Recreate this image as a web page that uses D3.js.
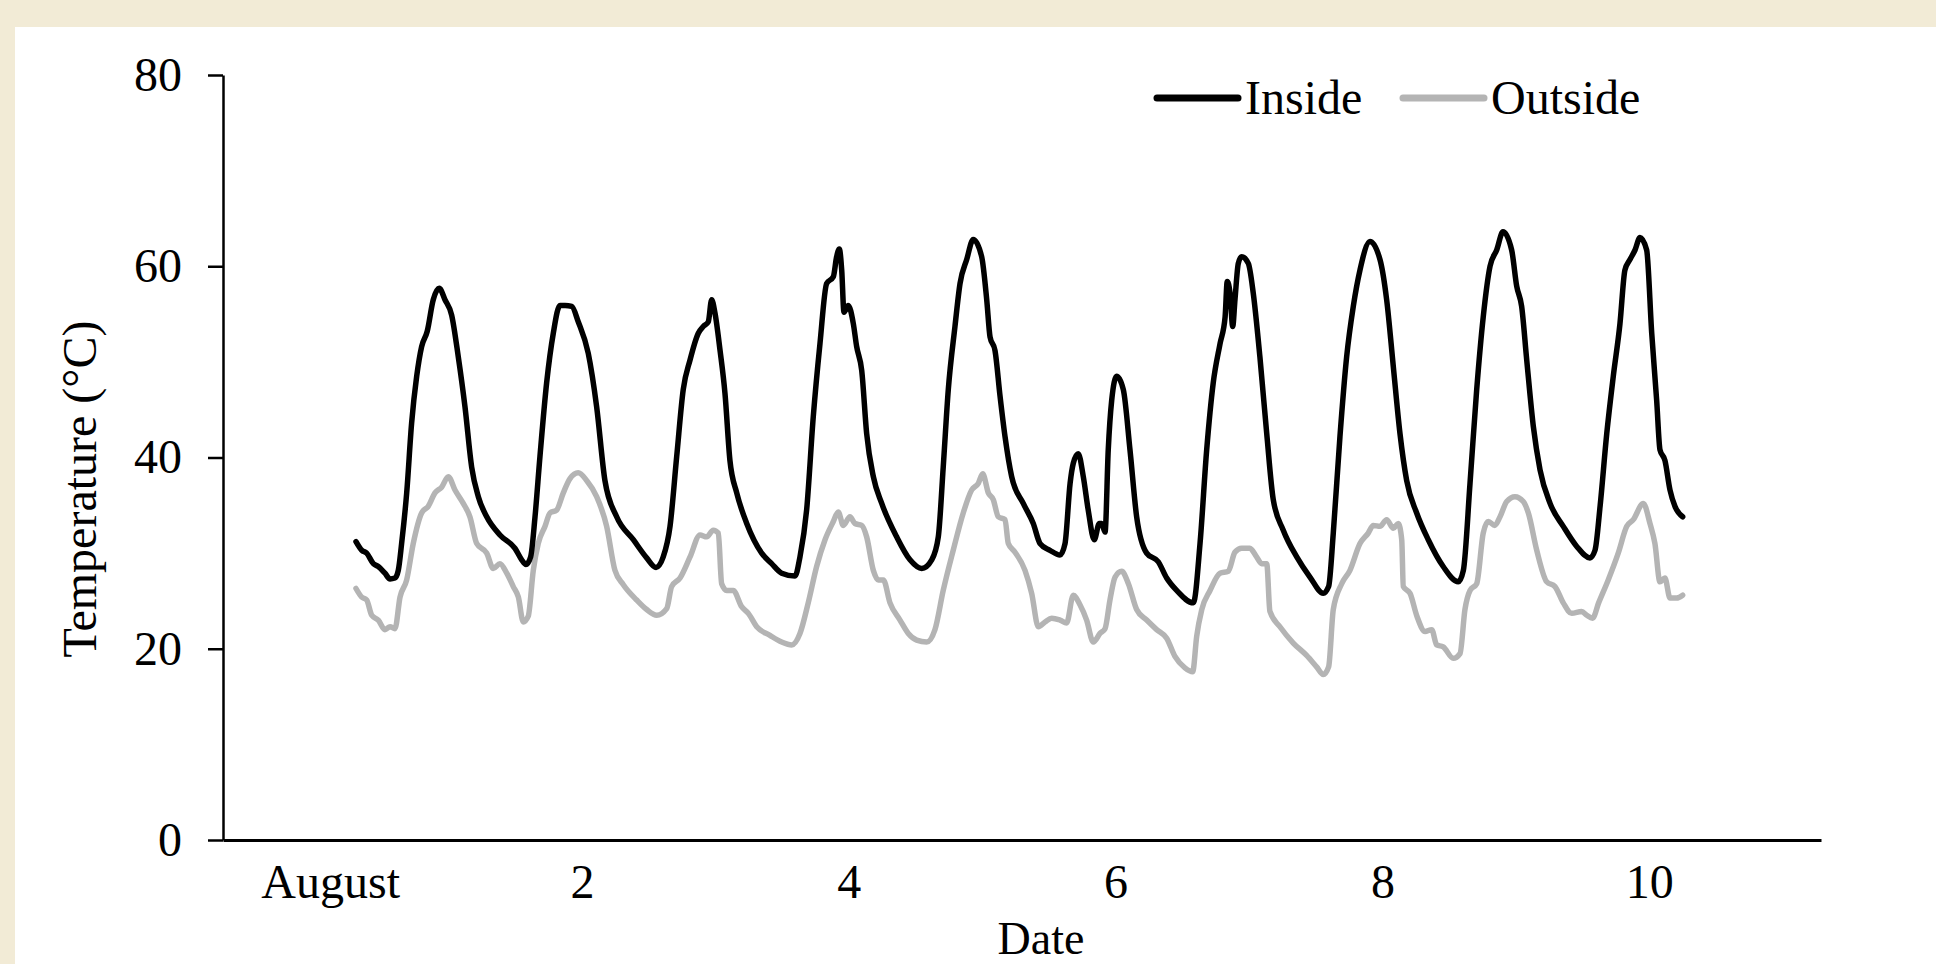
<!DOCTYPE html>
<html>
<head>
<meta charset="utf-8">
<script src="https://cdn.jsdelivr.net/npm/d3@7/dist/d3.min.js"></script>
<style>
  body { margin: 0; background: #f2ebd6; }
  svg { display: block; }
  text { font-family: "Liberation Serif", "Times New Roman", serif; fill: #000; }
</style>
</head>
<body>
<svg id="chart" width="1936" height="964"></svg>
<script>
// tick values / labels
const yTicks = [0, 20, 40, 60, 80];
const xTicks = [0, 2, 4, 6, 8, 10];
const xTickLabels = ["August", "2", "4", "6", "8", "10"];
const seriesNames = ["Inside", "Outside"];
const seriesColors = ["#000000", "#b4b4b4"];

// [day, temperature °C]
const inside = [
  [0.306, 31.2], [0.349, 30.3], [0.386, 30.0], [0.436, 28.9], [0.473, 28.6], [0.523, 27.9],
  [0.561, 27.3], [0.598, 27.4], [0.623, 28.2], [0.648, 31.0], [0.686, 36.3], [0.723, 43.6],
  [0.761, 48.5], [0.798, 51.6], [0.840, 53.2], [0.885, 56.5], [0.930, 57.7], [0.973, 56.5],
  [1.023, 54.9], [1.073, 50.5], [1.123, 45.3], [1.173, 39.0], [1.223, 35.9], [1.286, 33.8],
  [1.385, 31.9], [1.498, 30.5], [1.548, 29.3], [1.580, 28.8], [1.615, 29.6], [1.648, 33.8],
  [1.685, 40.1], [1.735, 47.8], [1.785, 53.0], [1.835, 55.9], [1.873, 55.9], [1.923, 55.8],
  [1.972, 54.2], [2.047, 50.9], [2.110, 45.3], [2.172, 37.6], [2.260, 33.8], [2.385, 31.4],
  [2.485, 29.5], [2.555, 28.5], [2.609, 29.6], [2.660, 32.8], [2.710, 40.1], [2.759, 47.1],
  [2.810, 50.2], [2.872, 53.0], [2.909, 53.7], [2.947, 54.2], [2.972, 56.5], [2.997, 55.1],
  [3.035, 51.2], [3.072, 46.7], [3.109, 39.7], [3.160, 36.3], [3.235, 33.1], [3.347, 30.0],
  [3.422, 28.9], [3.497, 27.9], [3.597, 27.6], [3.634, 29.6], [3.684, 34.5], [3.734, 44.3],
  [3.784, 51.9], [3.834, 58.2], [3.884, 58.9], [3.909, 61.0], [3.929, 61.8], [3.947, 59.6],
  [3.964, 55.2], [3.996, 55.9], [4.034, 54.0], [4.059, 51.6], [4.097, 49.1], [4.134, 42.5],
  [4.184, 38.0], [4.247, 35.2], [4.359, 31.7], [4.459, 29.3], [4.547, 28.4], [4.622, 29.3],
  [4.671, 31.7], [4.708, 39.0], [4.746, 47.1], [4.796, 53.7], [4.834, 58.2], [4.884, 60.7],
  [4.933, 62.8], [4.996, 61.0], [5.034, 56.5], [5.059, 52.6], [5.096, 51.2], [5.134, 46.4],
  [5.171, 42.2], [5.221, 38.0], [5.308, 35.2], [5.383, 33.1], [5.434, 31.0], [5.508, 30.3],
  [5.583, 29.8], [5.621, 31.0], [5.659, 37.3], [5.683, 39.4], [5.720, 40.4], [5.758, 38.0],
  [5.795, 34.5], [5.840, 31.4], [5.878, 33.1], [5.896, 33.1], [5.921, 32.2], [5.945, 40.8],
  [5.971, 46.0], [6.008, 48.5], [6.058, 47.1], [6.108, 40.8], [6.158, 33.8], [6.233, 30.0],
  [6.320, 29.1], [6.383, 27.4], [6.458, 26.1], [6.583, 24.8], [6.633, 31.0], [6.683, 40.8],
  [6.732, 47.8], [6.783, 51.9], [6.821, 54.7], [6.837, 58.4], [6.858, 57.2], [6.878, 53.7],
  [6.895, 56.5], [6.920, 60.3], [6.945, 61.0], [6.995, 60.3], [7.032, 57.2], [7.082, 50.5],
  [7.133, 42.5], [7.182, 35.6], [7.257, 32.4], [7.358, 29.6], [7.457, 27.5], [7.557, 25.8],
  [7.597, 26.5], [7.632, 32.1], [7.682, 42.2], [7.732, 50.5], [7.782, 55.8], [7.832, 59.6],
  [7.907, 62.6], [7.982, 60.7], [8.032, 56.5], [8.082, 49.5], [8.132, 42.5], [8.182, 37.6],
  [8.257, 34.2], [8.344, 31.4], [8.456, 28.6], [8.569, 27.0], [8.607, 28.2], [8.657, 37.3],
  [8.707, 47.1], [8.756, 54.7], [8.807, 60.0], [8.857, 61.7], [8.904, 63.6], [8.969, 61.7],
  [9.007, 57.9], [9.044, 55.8], [9.082, 50.2], [9.132, 43.2], [9.182, 38.7], [9.257, 35.2],
  [9.356, 32.8], [9.457, 30.7], [9.556, 29.5], [9.594, 30.3], [9.632, 34.9], [9.682, 42.5],
  [9.731, 48.5], [9.781, 54.0], [9.818, 59.6], [9.856, 60.7], [9.894, 61.7], [9.931, 63.0],
  [9.981, 61.7], [10.019, 53.0], [10.056, 46.0], [10.081, 40.8], [10.118, 39.7], [10.156, 36.6],
  [10.193, 34.9], [10.251, 33.8]
];

const outside = [
  [0.306, 26.3], [0.349, 25.4], [0.386, 25.1], [0.424, 23.5], [0.473, 23.0], [0.523, 22.0],
  [0.561, 22.3], [0.598, 22.1], [0.636, 25.4], [0.686, 27.2], [0.735, 31.0], [0.798, 34.2],
  [0.848, 34.9], [0.898, 36.3], [0.948, 36.9], [0.998, 38.0], [1.048, 36.6], [1.110, 35.2],
  [1.160, 33.8], [1.211, 31.0], [1.286, 30.0], [1.335, 28.4], [1.385, 28.9], [1.436, 27.9],
  [1.485, 26.5], [1.523, 25.4], [1.560, 22.8], [1.597, 23.4], [1.635, 28.2], [1.672, 31.0],
  [1.723, 32.8], [1.760, 34.2], [1.810, 34.5], [1.860, 36.3], [1.910, 37.8], [1.972, 38.4],
  [2.035, 37.6], [2.110, 35.9], [2.185, 32.8], [2.247, 28.2], [2.310, 26.7], [2.410, 25.1],
  [2.485, 24.1], [2.560, 23.5], [2.635, 24.2], [2.672, 26.5], [2.735, 27.4], [2.810, 29.6],
  [2.885, 31.9], [2.935, 31.7], [2.984, 32.4], [3.022, 32.1], [3.047, 26.8], [3.085, 26.1],
  [3.134, 26.1], [3.197, 24.4], [3.247, 23.7], [3.310, 22.3], [3.409, 21.4], [3.497, 20.7],
  [3.572, 20.4], [3.634, 21.6], [3.696, 24.8], [3.759, 28.6], [3.822, 31.4], [3.884, 33.3],
  [3.921, 34.3], [3.959, 32.9], [4.009, 33.8], [4.046, 33.1], [4.097, 32.9], [4.134, 31.7],
  [4.184, 28.2], [4.221, 27.2], [4.259, 27.2], [4.309, 24.8], [4.384, 23.0], [4.446, 21.6],
  [4.509, 20.9], [4.584, 20.7], [4.646, 22.0], [4.708, 26.1], [4.783, 30.3], [4.858, 34.2],
  [4.921, 36.6], [4.971, 37.3], [5.004, 38.3], [5.046, 36.3], [5.083, 35.6], [5.121, 33.8],
  [5.171, 33.5], [5.196, 31.0], [5.246, 30.1], [5.321, 28.2], [5.371, 25.8], [5.421, 22.3],
  [5.471, 22.8], [5.521, 23.2], [5.583, 23.0], [5.633, 22.7], [5.683, 25.6], [5.733, 24.6],
  [5.783, 23.0], [5.833, 20.7], [5.883, 21.6], [5.921, 22.1], [5.958, 25.1], [5.996, 27.5],
  [6.046, 28.1], [6.096, 26.8], [6.158, 24.1], [6.233, 23.0], [6.308, 22.0], [6.383, 21.1],
  [6.445, 19.2], [6.520, 18.0], [6.578, 17.6], [6.608, 21.3], [6.646, 24.1], [6.708, 26.1],
  [6.783, 27.9], [6.845, 28.1], [6.895, 30.1], [6.945, 30.5], [7.007, 30.5], [7.057, 29.6],
  [7.095, 28.9], [7.133, 28.9], [7.157, 23.9], [7.232, 22.3], [7.332, 20.6], [7.432, 19.3],
  [7.507, 18.1], [7.557, 17.3], [7.597, 18.1], [7.632, 24.1], [7.695, 26.8], [7.757, 28.2],
  [7.832, 31.0], [7.894, 32.1], [7.932, 32.9], [7.982, 32.8], [8.032, 33.5], [8.082, 32.6],
  [8.119, 33.1], [8.145, 31.4], [8.157, 26.5], [8.207, 25.8], [8.259, 23.4], [8.320, 21.8],
  [8.370, 22.0], [8.407, 20.4], [8.456, 20.2], [8.531, 19.0], [8.582, 19.5], [8.619, 24.1],
  [8.657, 26.1], [8.707, 26.8], [8.756, 32.1], [8.794, 33.3], [8.843, 32.9], [8.882, 33.8],
  [8.932, 35.4], [8.994, 35.9], [9.056, 35.4], [9.094, 34.2], [9.157, 30.3], [9.232, 27.0],
  [9.294, 26.5], [9.356, 24.8], [9.419, 23.7], [9.494, 23.9], [9.532, 23.5], [9.576, 23.2],
  [9.621, 24.8], [9.693, 27.2], [9.768, 30.0], [9.832, 32.8], [9.881, 33.5], [9.956, 35.2],
  [10.006, 33.1], [10.043, 31.0], [10.081, 27.0], [10.118, 27.4], [10.156, 25.3], [10.206, 25.3],
  [10.251, 25.6]
];

const W = 1936, H = 964;
const plot = { left: 223, right: 1821, top: 75, bottom: 840 };

const svg = d3.select("#chart");

// white panel on the beige page
svg.append("rect")
  .attr("x", 15).attr("y", 27)
  .attr("width", W - 15).attr("height", H - 27)
  .attr("fill", "#ffffff");

const x = d3.scaleLinear()
  .domain([-0.691, 11.288])
  .range([plot.left, plot.right]);

const y = d3.scaleLinear()
  .domain([0, 80])
  .range([plot.bottom, plot.top]);

// y axis
const yAxis = svg.append("g")
  .attr("transform", `translate(${plot.left},0)`)
  .call(d3.axisLeft(y).tickValues(yTicks).tickSizeInner(15).tickSizeOuter(0).tickPadding(26));
yAxis.select(".domain").attr("stroke", "#000").attr("stroke-width", 2.5);
yAxis.selectAll(".tick line").attr("stroke", "#000").attr("stroke-width", 2.5);
yAxis.selectAll(".tick text")
  .style("font-family", '"Liberation Serif", "Times New Roman", serif')
  .style("font-size", "48px")
  .attr("fill", "#000");

// x axis, no tick marks
const xAxis = svg.append("g")
  .attr("transform", `translate(0,${plot.bottom})`)
  .call(d3.axisBottom(x).tickValues(xTicks)
    .tickFormat((d, i) => xTickLabels[i])
    .tickSizeInner(0).tickSizeOuter(0).tickPadding(24));
xAxis.select(".domain").attr("stroke", "#000").attr("stroke-width", 3);
xAxis.selectAll(".tick text")
  .style("font-family", '"Liberation Serif", "Times New Roman", serif')
  .style("font-size", "48px")
  .attr("fill", "#000");
xAxis.selectAll(".tick text").filter((d, i) => i === 0).attr("dx", 15);

// axis titles
svg.append("text")
  .attr("transform", "translate(96,489) rotate(-90)")
  .attr("text-anchor", "middle")
  .style("font-size", "48px")
  .text("Temperature (°C)");

svg.append("text")
  .attr("x", 1041)
  .attr("y", 954)
  .attr("text-anchor", "middle")
  .style("font-size", "46px")
  .text("Date");

// lines
const line = d3.line()
  .x(d => x(d[0]))
  .y(d => y(d[1]))
  .curve(d3.curveMonotoneX);

[outside, inside].forEach(s => {
  svg.append("path")
    .datum(s)
    .attr("fill", "none")
    .attr("stroke", s === inside ? seriesColors[0] : seriesColors[1])
    .attr("stroke-width", 5.5)
    .attr("stroke-linejoin", "round")
    .attr("stroke-linecap", "round")
    .attr("d", line);
});

// legend
const legendX = [1157, 1403];
seriesNames.forEach((name, i) => {
  svg.append("line")
    .attr("x1", legendX[i]).attr("x2", legendX[i] + 81)
    .attr("y1", 98).attr("y2", 98)
    .attr("stroke", seriesColors[i])
    .attr("stroke-width", 7)
    .attr("stroke-linecap", "round");
  svg.append("text")
    .attr("x", legendX[i] + 88)
    .attr("y", 114)
    .style("font-size", "48px")
    .text(name);
});
</script>
</body>
</html>
